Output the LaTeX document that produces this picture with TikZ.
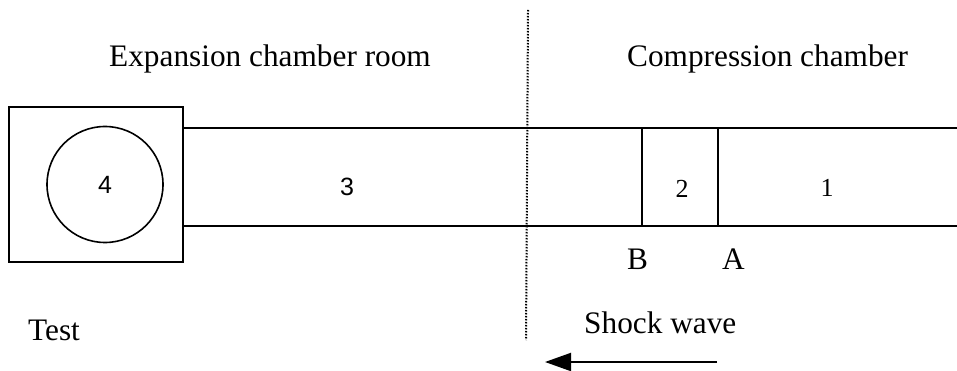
\documentclass[tikz,border=0pt]{standalone}
\usepackage{fontspec}
\setmainfont{Liberation Serif}
\newfontfamily\numsans{Liberation Sans}
\usetikzlibrary{arrows.meta}
\begin{document}
\begin{tikzpicture}[x=1pt,y=-1pt,
  lbl/.style={font=\fontsize{31.3}{37}\selectfont, inner sep=0pt, anchor=base west},
  numlbl/.style={font=\fontsize{26}{30}\selectfont, inner sep=0pt},
  wall/.style={line width=2pt},
  divider/.style={line width=2pt, dash pattern=on 1.5pt off 1.5pt}]
\useasboundingbox (0,0) rectangle (957,371);
% test chamber
\node[draw, wall, rectangle, minimum width=174pt, minimum height=155pt, inner sep=0pt] (sq) at (96,184.5) {};
\node[draw, line width=1.6pt, circle, minimum size=116pt, inner sep=0pt, font=\fontsize{25}{28}\selectfont\numsans] (c4) at (105,184.5) {4};
% tube
\coordinate (tl) at (183,128);
\coordinate (tr) at (957,128);
\coordinate (bl) at (183,226);
\coordinate (br) at (957,226);
\draw[wall] (tl) -- (tr);
\draw[wall] (bl) -- (br);
% membranes
\coordinate (Bt) at (642,128);
\coordinate (Bb) at (642,226);
\coordinate (At) at (718,128);
\coordinate (Ab) at (718,226);
\draw[wall] (Bt) -- (Bb);
\draw[wall] (At) -- (Ab);
% region numbers
\node[numlbl, font=\fontsize{25}{28}\selectfont\numsans] (n3) at (347,187) {3};
\node[numlbl] (n2) at (682,189) {2};
\node[numlbl] (n1) at (827,188) {1};
% divider
\coordinate (dt) at (528,10);
\coordinate (db) at (526,340);
\draw[divider] (dt) -- (db);
% labels
\node[lbl] (exp) at (109,67) {Expansion chamber room};
\node[lbl] (comp) at (627,67) {Compression chamber};
\node[lbl] (test) at (28,340) {Test};
\node[lbl] (shock) at (584,333) {Shock wave};
\node[lbl] (lb) at (627,269) {B};
\node[lbl] (la) at (722,269) {A};
% arrow
\coordinate (as) at (717,362);
\coordinate (ae) at (545,362);
\draw[line width=2pt, -{Triangle[length=26pt,width=18pt]}] (as) -- (ae);
\end{tikzpicture}
\end{document}
